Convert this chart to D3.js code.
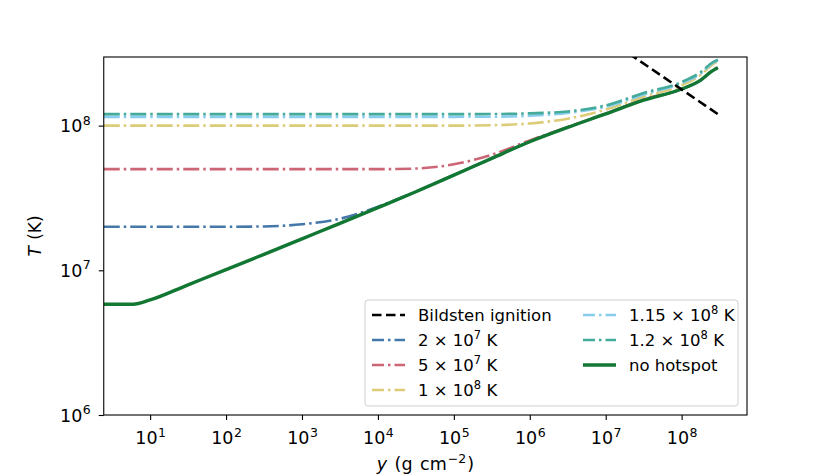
<!DOCTYPE html>
<html><head><meta charset="utf-8">
<script src="https://cdn.jsdelivr.net/npm/d3@7"></script>
<style>body{margin:0;background:#fff;} svg{display:block;} text{font-family:"DejaVu Sans",sans-serif;}</style>
</head><body>
<svg id="chart" width="830" height="475"></svg>
<script>
// column depth y (g cm^-2)
const colDepth = [2.45, 5.97, 10, 31.6, 100, 316, 1000, 3160, 1e4, 3.16e4, 1e5, 3.16e5, 1e6, 3.16e6, 1e7, 3.16e7, 1e8, 1.78e8, 2.51e8, 3.0e8];
const T_2e7   = [2.0e7, 2.0e7, 2.0e7, 2.0e7, 2.0e7, 2.01e7, 2.08e7, 2.27e7, 2.75e7, 3.5e7, 4.56e7, 5.95e7, 7.75e7, 9.73e7, 1.21e8, 1.51e8, 1.78e8, 2.05e8, 2.38e8, 2.52e8];
const T_5e7   = [5.0e7, 5.0e7, 5.0e7, 5.0e7, 5.0e7, 5.0e7, 5.0e7, 5.0e7, 5.0e7, 5.05e7, 5.4e7, 6.3e7, 7.9e7, 9.78e7, 1.21e8, 1.52e8, 1.79e8, 2.06e8, 2.4e8, 2.55e8];
const T_1e8   = [1.0e8, 1.0e8, 1.0e8, 1.0e8, 1.0e8, 1.0e8, 1.0e8, 1.0e8, 1.0e8, 1.0e8, 1.0e8, 1.007e8, 1.035e8, 1.117e8, 1.29e8, 1.585e8, 1.9e8, 2.24e8, 2.63e8, 2.79e8];
const T_115e8 = [1.15e8, 1.15e8, 1.15e8, 1.15e8, 1.15e8, 1.15e8, 1.15e8, 1.15e8, 1.15e8, 1.15e8, 1.15e8, 1.152e8, 1.17e8, 1.225e8, 1.35e8, 1.64e8, 1.97e8, 2.29e8, 2.69e8, 2.82e8];
const T_12e8  = [1.2e8, 1.2e8, 1.2e8, 1.2e8, 1.2e8, 1.2e8, 1.2e8, 1.2e8, 1.2e8, 1.2e8, 1.2e8, 1.202e8, 1.216e8, 1.253e8, 1.38e8, 1.68e8, 2.0e8, 2.34e8, 2.72e8, 2.85e8];
const T_none  = [5.82e6, 5.82e6, 6.24e6, 7.94e6, 1.01e7, 1.29e7, 1.65e7, 2.11e7, 2.71e7, 3.49e7, 4.55e7, 5.94e7, 7.74e7, 9.72e7, 1.205e8, 1.5e8, 1.79e8, 2.06e8, 2.38e8, 2.51e8];
const bildY = [1e7, 3.0e8];
const bildT = [4.05e8, 1.2e8];
const xTicks = [1e1, 1e2, 1e3, 1e4, 1e5, 1e6, 1e7, 1e8];
const yTicks = [1e6, 1e7, 1e8];

const m = {left: 103.75, right: 747, top: 57, bottom: 415};
const FS = "16.5px", SFS = "11.5px", TFS = "17.5px", TSFS = "12.5px";
const svg = d3.select("#chart");
const x = d3.scaleLog().domain([2.45, 7.26e8]).range([m.left, m.right]);
const y = d3.scaleLog().domain([1e6, 2.98e8]).range([m.bottom, m.top]);

svg.append("clipPath").attr("id","clip").append("rect")
  .attr("x", m.left).attr("y", m.top).attr("width", m.right-m.left).attr("height", m.bottom-m.top);

const series = [
  {T: T_2e7, color: "#4477AA", dash: true},
  {T: T_5e7, color: "#CC6677", dash: true},
  {T: T_1e8, color: "#DDCC77", dash: true},
  {T: T_115e8, color: "#88CCEE", dash: true},
  {T: T_12e8, color: "#44AA99", dash: true},
  {T: T_none, color: "#117733", dash: false}
];
const line = d3.line().x(d => x(d[0])).y(d => y(d[1])).curve(d3.curveMonotoneX);
const g = svg.append("g").attr("clip-path","url(#clip)");
series.forEach(s => {
  g.append("path").datum(colDepth.map((c,i)=>[c, s.T[i]]))
    .attr("d", line).attr("fill","none").attr("stroke", s.color)
    .attr("stroke-width", s.dash ? 2.6 : 3.4)
    .attr("stroke-dasharray", s.dash ? "16,4,2.5,4" : null);
});
g.append("path").datum(bildY.map((c,i)=>[c, bildT[i]]))
  .attr("d", d3.line().x(d=>x(d[0])).y(d=>y(d[1])))
  .attr("fill","none").attr("stroke","#000").attr("stroke-width",2.6).attr("stroke-dasharray","9.5,4.5");

function sup(sel, base, exp) {
  sel.text(null);
  sel.append("tspan").text(base);
  sel.append("tspan").attr("dy", -7.5).attr("dx", 0.5).attr("font-size", TSFS).text(exp);
}
const xAxis = svg.append("g").attr("transform", `translate(0,${m.bottom})`)
  .call(d3.axisBottom(x).tickValues(xTicks).tickSize(5).tickFormat(""));
xAxis.select(".domain").remove();
xAxis.selectAll(".tick line").attr("stroke","#000").attr("stroke-width",1.1);
xAxis.selectAll(".tick text").remove();
xAxis.selectAll(".tick").append("text").attr("y", 29).attr("fill","#000")
  .attr("font-size",TFS).attr("text-anchor","middle")
  .each(function(d){ sup(d3.select(this), "10", String(Math.round(Math.log10(d)))); });

const yAxis = svg.append("g").attr("transform", `translate(${m.left},0)`)
  .call(d3.axisLeft(y).tickValues(yTicks).tickSize(5).tickFormat(""));
yAxis.select(".domain").remove();
yAxis.selectAll(".tick line").attr("stroke","#000").attr("stroke-width",1.1);
yAxis.selectAll(".tick text").remove();
yAxis.selectAll(".tick").append("text").attr("x", -13).attr("y", 6).attr("fill","#000")
  .attr("font-size",TFS).attr("text-anchor","end")
  .each(function(d){ sup(d3.select(this), "10", String(Math.round(Math.log10(d)))); });

svg.append("rect").attr("x", m.left).attr("y", m.top).attr("width", m.right-m.left).attr("height", m.bottom-m.top)
  .attr("fill","none").attr("stroke","#000").attr("stroke-width",1.1);

const xl = svg.append("text").attr("x", (m.left+m.right)/2).attr("y", 470).attr("text-anchor","middle")
  .attr("font-size","17.5px").attr("word-spacing","2px");
xl.append("tspan").attr("font-style","italic").text("y");
xl.append("tspan").text(" (g cm");
xl.append("tspan").attr("dy",-7).attr("dx",1).attr("font-size","12.5px").text("\u22122");
xl.append("tspan").attr("dy",7).attr("dx",1).text(")");
const yl = svg.append("text").attr("transform", `translate(41,${(m.top+m.bottom)/2}) rotate(-90)`).attr("text-anchor","middle")
  .attr("font-size","17px").attr("word-spacing","1px");
yl.append("tspan").attr("font-style","italic").text("T");
yl.append("tspan").text(" (K)");

const lg = svg.append("g");
lg.append("rect").attr("x",365).attr("y",300).attr("width",373).attr("height",106).attr("rx",3)
  .attr("fill","#fff").attr("fill-opacity",0.8).attr("stroke","#d0d0d0").attr("stroke-width",1);
const legendItems = [
  {col:0,row:0,color:"#000",type:"dash",label:["Bildsten ignition"]},
  {col:0,row:1,color:"#4477AA",type:"dashdot",label:["2 \u00d7 10","7"," K"]},
  {col:0,row:2,color:"#CC6677",type:"dashdot",label:["5 \u00d7 10","7"," K"]},
  {col:0,row:3,color:"#DDCC77",type:"dashdot",label:["1 \u00d7 10","8"," K"]},
  {col:1,row:0,color:"#88CCEE",type:"dashdot",label:["1.15 \u00d7 10","8"," K"]},
  {col:1,row:1,color:"#44AA99",type:"dashdot",label:["1.2 \u00d7 10","8"," K"]},
  {col:1,row:2,color:"#117733",type:"solid",label:["no hotspot"]}
];
legendItems.forEach(it => {
  const lx = it.col === 0 ? 372 : 583;
  const ly = 315 + it.row * 25;
  lg.append("line").attr("x1",lx).attr("x2",lx+33).attr("y1",ly).attr("y2",ly)
    .attr("stroke",it.color).attr("stroke-width", it.type==="solid"?3.4:2.6)
    .attr("stroke-dasharray", it.type==="dash" ? "9.5,4.5" : it.type==="dashdot" ? "12,4,2.5,4" : null);
  const t = lg.append("text").attr("x", lx+46).attr("y", ly+6).attr("font-size",FS);
  t.append("tspan").text(it.label[0]);
  if (it.label.length > 1) {
    t.append("tspan").attr("dy",-7).attr("font-size",SFS).text(it.label[1]);
    t.append("tspan").attr("dy",7).text(it.label[2]);
  }
});
</script>
</body></html>
